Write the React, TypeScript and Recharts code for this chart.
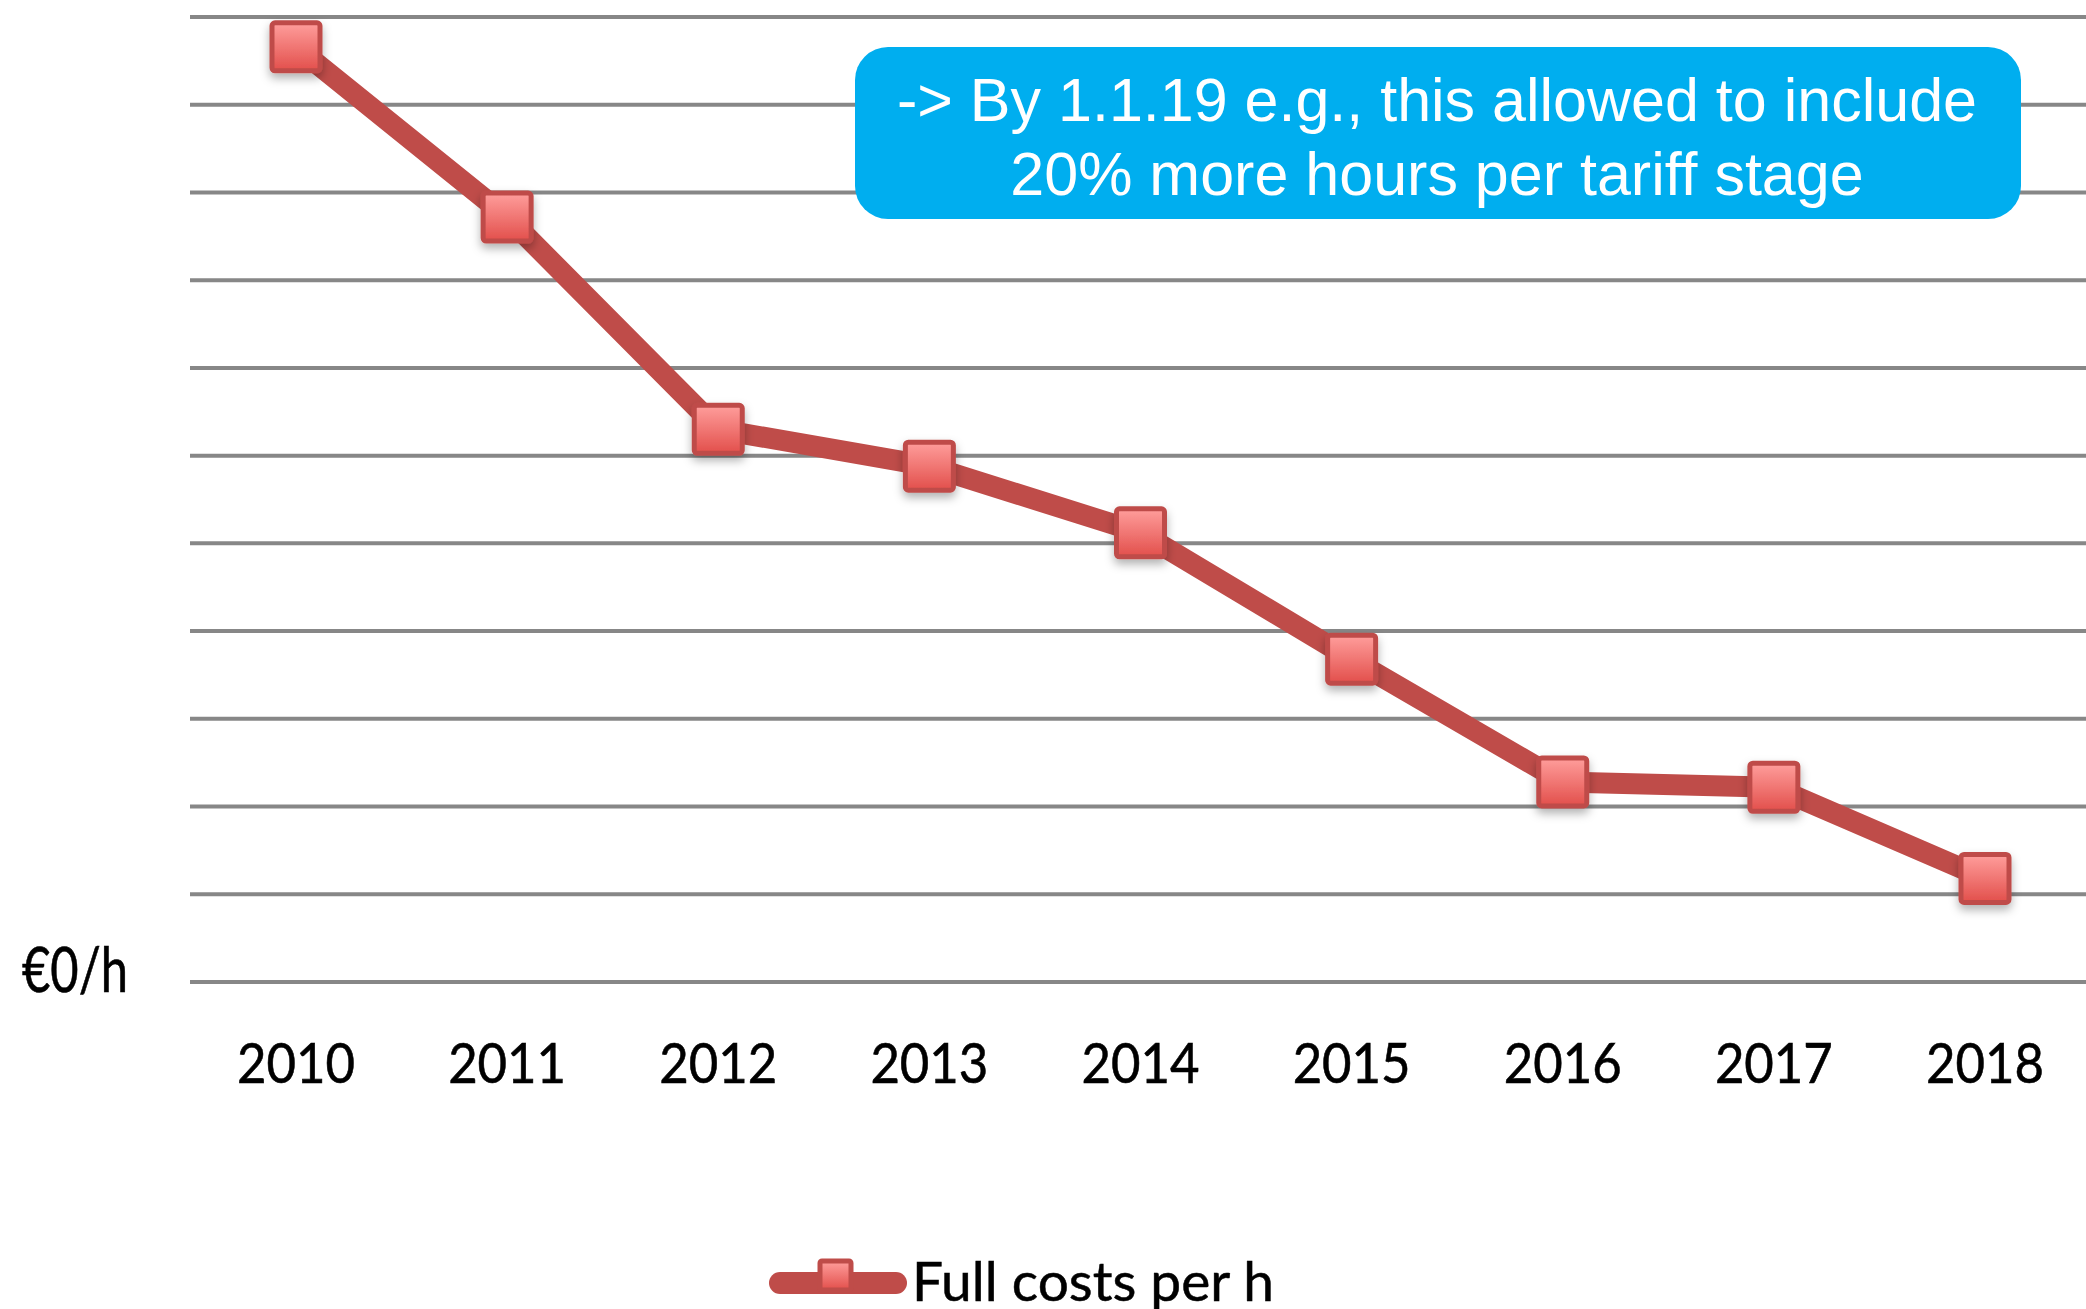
import React from "react";
import { CartesianGrid, Legend, Line, LineChart, XAxis, YAxis } from "recharts";

// values, in €/h (grid step = 5)
const years = ["2010", "2011", "2012", "2013", "2014", "2015", "2016", "2017", "2018"];
const fullCostsPerHour = [53.3, 43.6, 31.5, 29.4, 25.6, 18.4, 11.4, 11.1, 5.9];
const yTicks = [0, 5, 10, 15, 20, 25, 30, 35, 40, 45, 50, 55];
const seriesName = "Full costs per h";
const noteLines = [
  "-> By 1.1.19 e.g., this allowed to include",
  "20% more hours per tariff stage",
];

const W = 2092;
const H = 1309;
const LEGEND_H = 69;

const COLORS = {
  line: "#BF4C49",
  grid: "#878787",
  note: "#00AEEF",
  text: "#000",
};

const LABEL_FONT = 'Lato, "Noto Sans", sans-serif';

const data = years.map((year, i) => ({ year, cost: fullCostsPerHour[i] }));

function SquareDot(props: any) {
  const { cx, cy, index } = props;
  if (cx == null || cy == null) return null;
  return (
    <rect
      key={`dot-${index}`}
      x={cx - 24}
      y={cy - 24}
      width={48}
      height={48}
      rx={3}
      fill="url(#markerFill)"
      stroke={COLORS.line}
      strokeWidth={5}
      filter="url(#markerShadow)"
    />
  );
}

function YearTick(props: any) {
  const { x, y, payload } = props;
  return (
    <text
      x={x}
      y={y + 101}
      textAnchor="middle"
      fontFamily={LABEL_FONT}
      fontSize={57}
      fill={COLORS.text}
      stroke={COLORS.text}
      strokeWidth={0.6}
      textLength={118}
      lengthAdjust="spacingAndGlyphs"
    >
      {payload.value}
    </text>
  );
}

function EuroTick(props: any) {
  const { x, y, payload } = props;
  if (payload.value !== 0) return null;
  return (
    <text
      x={x - 62}
      y={y + 10}
      textAnchor="end"
      fontFamily={LABEL_FONT}
      fontSize={61}
      fill={COLORS.text}
      stroke={COLORS.text}
      strokeWidth={0.6}
      textLength={106}
      lengthAdjust="spacingAndGlyphs"
    >
      €0/h
    </text>
  );
}

function LegendContent({ payload }: { payload?: any[] }) {
  const label = payload && payload[0] ? String(payload[0].value) : seriesName;
  return (
    <svg width={W} height={LEGEND_H} style={{ display: "block" }}>
      <line x1={780} y1={43} x2={896} y2={43} stroke={COLORS.line} strokeWidth={22} strokeLinecap="round" />
      <rect x={820} y={21} width={31} height={29} rx={2} fill="url(#legendFill)" stroke={COLORS.line} strokeWidth={5} />
      <defs>
        <linearGradient id="legendFill" x1="0" y1="0" x2="0" y2="1">
          <stop offset="0%" stopColor="#FF9E9C" />
          <stop offset="100%" stopColor="#E24F4B" />
        </linearGradient>
      </defs>
      <text
        x={912}
        y={61}
        fontFamily={LABEL_FONT}
        fontSize={54}
        fill={COLORS.text}
        stroke={COLORS.text}
        strokeWidth={0.5}
        textLength={362}
        lengthAdjust="spacingAndGlyphs"
      >
        {label}
      </text>
    </svg>
  );
}

function Note() {
  return (
    <svg
      width={2086}
      height={260}
      style={{ position: "absolute", left: 0, top: 0, pointerEvents: "none" }}
    >
      <rect x={855} y={47} width={1166} height={172} rx={33} fill={COLORS.note} />
      {noteLines.map((line, i) => (
        <text
          key={i}
          x={1437}
          y={121 + i * 74}
          textAnchor="middle"
          fontFamily='"Liberation Sans", Arial, sans-serif'
          fontSize={61}
          fill="#fff"
        >
          {line}
        </text>
      ))}
    </svg>
  );
}

export default function App() {
  return (
    <div
      style={{
        position: "absolute",
        left: 0,
        top: 0,
        width: 2086,
        height: H,
        overflow: "hidden",
        background: "#fff",
      }}
    >
      <LineChart width={W} height={H} data={data} margin={{ top: 17, right: 1, left: 0, bottom: 0 }}>
        <defs>
          <linearGradient id="markerFill" x1="0" y1="0" x2="0" y2="1">
            <stop offset="0%" stopColor="#FF9E9C" />
            <stop offset="100%" stopColor="#E24F4B" />
          </linearGradient>
          <filter id="markerShadow" x="-40%" y="-40%" width="180%" height="200%">
            <feDropShadow dx="0" dy="5" stdDeviation="5" floodColor="#000" floodOpacity="0.3" />
          </filter>
        </defs>
        <CartesianGrid horizontal vertical={false} stroke={COLORS.grid} strokeWidth={4} />
        <XAxis
          dataKey="year"
          axisLine={false}
          tickLine={false}
          tickSize={0}
          tickMargin={0}
          height={H - 982 - LEGEND_H}
          interval={0}
          padding={{ left: 106, right: 106 }}
          tick={<YearTick />}
        />
        <YAxis
          domain={[0, 55]}
          ticks={yTicks}
          interval={0}
          axisLine={false}
          tickLine={false}
          tickSize={0}
          tickMargin={0}
          width={190}
          tick={<EuroTick />}
        />
        <Legend
          verticalAlign="bottom"
          width={W}
          height={LEGEND_H}
          wrapperStyle={{ left: 0, bottom: 0, width: W, height: LEGEND_H }}
          content={(props: any) => <LegendContent payload={props.payload} />}
        />
        <Line
          type="linear"
          dataKey="cost"
          name={seriesName}
          stroke={COLORS.line}
          strokeWidth={21}
          strokeLinejoin="round"
          dot={<SquareDot />}
          activeDot={false}
          isAnimationActive={false}
        />
      </LineChart>
      <Note />
    </div>
  );
}
